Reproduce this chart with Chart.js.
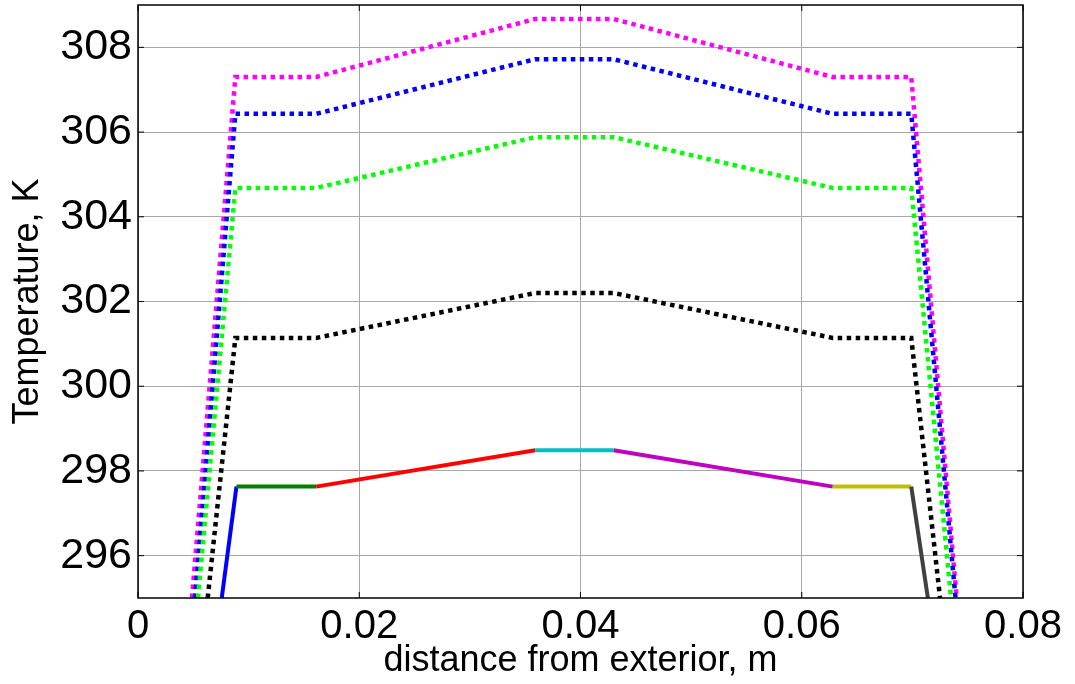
<!DOCTYPE html>
<html>
<head>
<meta charset="utf-8">
<script src="https://cdn.jsdelivr.net/npm/chart.js@4"></script>
<style>
  body { margin: 0; background: #fff; }
</style>
</head>
<body>
<canvas id="grafica" width="1075" height="684"></canvas>
<script>
// tick values
const xTicks = [0, 0.02, 0.04, 0.06, 0.08]
const yTicks = [296, 298, 300, 302, 304, 306, 308]

// dotted profiles
const blackX = [0.0063, 0.0088, 0.0161, 0.0359, 0.0430, 0.0628, 0.0699, 0.0725]
const blackY = [295, 301.14, 301.14, 302.20, 302.20, 301.14, 301.14, 295]

const greenX = [0.00542, 0.0088, 0.0161, 0.0359, 0.0430, 0.0628, 0.0699, 0.0735]
const greenY = [295, 304.68, 304.68, 305.88, 305.88, 304.68, 304.68, 295]

const blueX = [0.00515, 0.0088, 0.0161, 0.0359, 0.0430, 0.0628, 0.0699, 0.0739]
const blueY = [295, 306.43, 306.43, 307.72, 307.72, 306.43, 306.43, 295]

const magentaX = [0.00488, 0.0088, 0.0161, 0.0359, 0.0430, 0.0628, 0.0699, 0.0740]
const magentaY = [295, 307.30, 307.30, 308.67, 308.67, 307.30, 307.30, 295]

// solid profile, one colour per layer
const solidX = [0.00757, 0.0089, 0.0161, 0.0359, 0.0430, 0.0628, 0.0699, 0.0714]
const solidY = [295, 297.63, 297.63, 298.49, 298.49, 297.63, 297.63, 295]
const layerColors = ['#0000ff', '#007f00', '#ff0000', '#00bfbf', '#bf00bf', '#bfbf00', '#404040']

const pts = (xs, ys) => xs.map((x, i) => ({ x: x, y: ys[i] }))

const dotted = (xs, ys, color, order) => ({
	data: pts(xs, ys),
	borderColor: color,
	borderWidth: 4.5,
	borderDash: [4.5, 4.5],
	pointRadius: 0,
	showLine: true,
	fill: false,
	order: order
})

const frame = {
	id: 'frame',
	afterDraw(chart) {
		const ctx = chart.ctx
		const a = chart.chartArea
		const xs = chart.scales.x, ys = chart.scales.y
		ctx.save()
		ctx.strokeStyle = '#000'
		ctx.lineWidth = 1.5
		ctx.strokeRect(a.left, a.top, a.right - a.left, a.bottom - a.top)
		ctx.lineWidth = 1
		ctx.beginPath()
		xTicks.forEach(v => {
			const p = xs.getPixelForValue(v)
			ctx.moveTo(p, a.bottom); ctx.lineTo(p, a.bottom - 6)
			ctx.moveTo(p, a.top); ctx.lineTo(p, a.top + 6)
		})
		yTicks.forEach(v => {
			const p = ys.getPixelForValue(v)
			ctx.moveTo(a.left, p); ctx.lineTo(a.left + 6, p)
			ctx.moveTo(a.right, p); ctx.lineTo(a.right - 6, p)
		})
		ctx.stroke()
		ctx.restore()
	}
}

const graph = document.querySelector('#grafica')

new Chart(graph, {
	type: 'scatter',
	data: {
		datasets: [
			{
				data: pts(solidX, solidY),
				borderColor: layerColors[0],
				borderWidth: 4,
				pointRadius: 0,
				showLine: true,
				fill: false,
				order: 0,
				segment: { borderColor: c => layerColors[c.p0DataIndex] }
			},
			dotted(blackX, blackY, '#000000', 1),
			dotted(greenX, greenY, '#00ff00', 2),
			dotted(blueX, blueY, '#0000ff', 3),
			dotted(magentaX, magentaY, '#ff00ff', 4)
		]
	},
	options: {
		responsive: false,
		animation: false,
		layout: { padding: { left: 0, right: 52, top: 5, bottom: 0 } },
		plugins: { legend: { display: false }, tooltip: { enabled: false } },
		scales: {
			x: {
				type: 'linear',
				min: 0,
				max: 0.08,
				afterBuildTicks: axis => { axis.ticks = xTicks.map(v => ({ value: v })) },
				afterFit: axis => {
					axis.height = 86
					axis.paddingLeft = 0
					axis.paddingRight = 0
				},
				grid: { color: '#a8a8a8', lineWidth: 1, drawTicks: false },
				border: { display: false },
				ticks: {
					color: '#000',
					padding: 5,
					maxRotation: 0,
					font: { family: 'Liberation Sans', size: 40 },
					callback: v => String(v)
				},
				title: {
					display: true,
					text: 'distance from exterior, m',
					color: '#000',
					padding: { top: 0, bottom: 1 },
					font: { family: 'Liberation Sans', size: 36 }
				}
			},
			y: {
				type: 'linear',
				min: 295,
				max: 309,
				afterBuildTicks: axis => { axis.ticks = yTicks.map(v => ({ value: v })) },
				afterFit: axis => {
					axis.width = 138
					axis.paddingTop = 0
					axis.paddingBottom = 0
				},
				grid: { color: '#a8a8a8', lineWidth: 1, drawTicks: false },
				border: { display: false },
				ticks: {
					color: '#000',
					padding: 6,
					font: { family: 'Liberation Sans', size: 43 }
				},
				title: {
					display: true,
					text: 'Temperature, K',
					color: '#000',
					padding: { top: 6, bottom: 0 },
					font: { family: 'Liberation Sans', size: 36 }
				}
			}
		}
	},
	plugins: [frame]
})
</script>
</body>
</html>
